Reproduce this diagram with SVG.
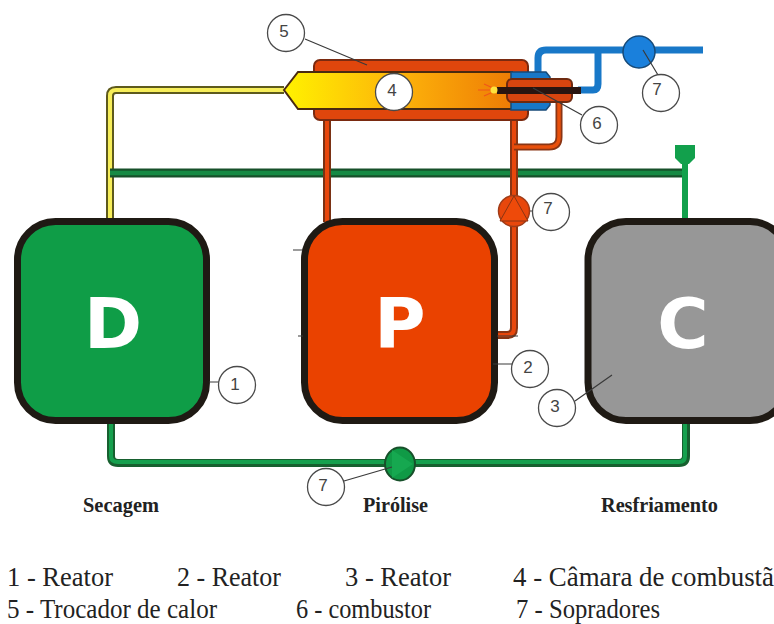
<svg xmlns="http://www.w3.org/2000/svg" width="774" height="624" viewBox="0 0 774 624">
<style>
.reactor{stroke:#1f1a14;stroke-width:7}
.letter{font-family:"DejaVu Sans",sans-serif;font-weight:700;font-size:70px;fill:#fff;text-anchor:middle}
.tag{fill:#fff;stroke:#4a4a4a;stroke-width:1.3}
.tagtext{font-family:"Liberation Sans",sans-serif;font-size:17px;fill:#444;text-anchor:middle}
.leader{stroke:#3a3a3a;stroke-width:1.2;fill:none}
.pipe{fill:none;stroke-linejoin:round}
.caption{font-family:"Liberation Serif",serif;font-weight:700;font-size:21px;fill:#222}
.legend{font-family:"Liberation Serif",serif;font-size:27px;fill:#222}
</style>
<defs>
<linearGradient id="flame" gradientUnits="userSpaceOnUse" x1="284" x2="512" y1="0" y2="0">
<stop offset="0" stop-color="#fff200"/><stop offset="0.5" stop-color="#fdb40a"/><stop offset="1" stop-color="#ee7c05"/>
</linearGradient>
</defs>
<rect width="774" height="624" fill="#fff"/>

<g id="connectors">
<!-- yellow duct from dryer to chamber -->
<path class="pipe" d="M110 222V96Q110 90 116 90H284" stroke="#5e5a1c" stroke-width="8"/>
<path class="pipe" d="M110 222V96Q110 90 116 90H284" stroke="#f7ee5a" stroke-width="4"/>
<!-- recirculating green line -->
<path class="pipe" d="M110 173H684" stroke="#17502a" stroke-width="9"/>
<path class="pipe" d="M110 173H684" stroke="#168a44" stroke-width="4.500"/>
<path class="pipe" d="M685 155V222" stroke="#12a04c" stroke-width="6"/>
<!-- bottom loop between dryer and cooler -->
<path class="pipe" d="M111 424V456Q111 463 118 463H679Q686 463 686 456V424" stroke="#17602f" stroke-width="8"/>
<path class="pipe" d="M111 424V456Q111 462 118 462H679Q685 462 685 456V424" stroke="#16a04e" stroke-width="4"/>
<!-- hot gas lines -->
<path class="pipe" d="M327 120V222" stroke="#7a3214" stroke-width="8"/>
<path class="pipe" d="M327 120V222" stroke="#e8470c" stroke-width="4"/>
<path class="pipe" d="M514 120V198M514 222V328Q514 335 507 335H497" stroke="#8a3514" stroke-width="8"/>
<path class="pipe" d="M514 120V198M514 222V328Q514 335 507 335H497" stroke="#e8470c" stroke-width="4"/>
<path class="pipe" d="M514 147H549Q559 147 559 137V102" stroke="#8a3514" stroke-width="7"/>
<path class="pipe" d="M514 147H549Q559 147 559 137V102" stroke="#e8500c" stroke-width="3.500"/>
<!-- air supply -->
<path class="pipe" d="M538 73V58Q538 50 546 50H703" stroke="#1878c8" stroke-width="7"/>
<path class="pipe" d="M578 90H593Q598 90 598 84V50" stroke="#1878c8" stroke-width="7"/>
</g>

<g id="node-exchanger">
<rect x="314" y="60" width="214" height="60" rx="6" fill="#e0460c" stroke="#7a2a10" stroke-width="2"/>
<path d="M284 90L298 72H512V109H298Z" fill="url(#flame)" stroke="#4a2a10" stroke-width="2"/>
</g>

<g id="node-burner">
<path d="M511 72H546L550 77V105L546 110H511Z" fill="#1878c8" stroke="#174a78" stroke-width="1.500"/>
<rect x="507" y="79" width="65" height="23" rx="5" fill="#d8450f" stroke="#6e2a10" stroke-width="2"/>
<rect x="497" y="87" width="84" height="7" fill="#2a1510"/>
<path d="M478 90L492 90M484 84L493 88M484 96L493 92" stroke="#f0561a" stroke-width="1.200"/>
<circle cx="494" cy="90" r="3.500" fill="#ffe23c"/>
</g>

<g id="node-d"><rect class="reactor" x="17.500" y="221.500" width="189" height="199" rx="38" fill="#0f9d47"/><text class="letter" x="113" y="348">D</text></g>
<g id="node-p"><rect class="reactor" x="304.500" y="221.500" width="190" height="199" rx="38" fill="#ea4200"/><text class="letter" x="400" y="348">P</text></g>
<g id="node-c"><rect class="reactor" x="588" y="221.500" width="200" height="199" rx="38" fill="#979797"/><text class="letter" x="683" y="348">C</text></g>

<g id="blower-top"><circle cx="639" cy="52" r="16" fill="#1a80dc" stroke="#174a78" stroke-width="1.500"/></g>
<g id="blower-hot"><circle cx="514" cy="211" r="15.500" fill="#e8470c" stroke="#a03c18" stroke-width="1.500"/><path d="M514 196L528 221H500Z" fill="#ee4a0a" stroke="#8a3514"/></g>
<g id="blower-cold"><ellipse cx="400" cy="464" rx="15" ry="16.500" fill="#109a46" stroke="#17502a" stroke-width="2"/><path d="M392 450L413 464L392 478" fill="#16a850"/></g>
<g id="vent"><path d="M675 145H695V158L689 164H681L675 158Z" fill="#12a04c"/></g>

<g id="tags">
<path class="leader" d="M305 39L367 65M643 50L658 75M533 88L582 115M530 211H534M493 364H512M344 481L392 467M209 382H219M575 401L612 375M293 250H303M298 336H303M497 336H518"/>
<circle class="tag" cx="286" cy="33" r="18.500"/><text class="tagtext" x="284" y="37">5</text>
<circle class="tag" cx="394" cy="92" r="18.500"/><text class="tagtext" x="392" y="96">4</text>
<circle class="tag" cx="599" cy="125" r="18.500"/><text class="tagtext" x="597" y="129">6</text>
<circle class="tag" cx="661" cy="93" r="18.500"/><text class="tagtext" x="657" y="95">7</text>
<circle class="tag" cx="551" cy="212" r="18.500"/><text class="tagtext" x="548" y="214">7</text>
<circle class="tag" cx="530" cy="369" r="18.500"/><text class="tagtext" x="528" y="373">2</text>
<circle class="tag" cx="557" cy="408" r="18.500"/><text class="tagtext" x="555" y="412">3</text>
<circle class="tag" cx="237" cy="385" r="18.500"/><text class="tagtext" x="235" y="390">1</text>
<circle class="tag" cx="326" cy="487" r="18.500"/><text class="tagtext" x="323" y="491">7</text>
</g>

<g id="captions">
<text class="caption" x="83" y="512" textLength="76" lengthAdjust="spacingAndGlyphs">Secagem</text>
<text class="caption" x="363" y="512" textLength="65" lengthAdjust="spacingAndGlyphs">Pirólise</text>
<text class="caption" x="601" y="512" textLength="117" lengthAdjust="spacingAndGlyphs">Resfriamento</text>
</g>

<g id="legend">
<text class="legend" x="7" y="586" textLength="106" lengthAdjust="spacingAndGlyphs">1 - Reator</text>
<text class="legend" x="177" y="586" textLength="104" lengthAdjust="spacingAndGlyphs">2 - Reator</text>
<text class="legend" x="345" y="586" textLength="106" lengthAdjust="spacingAndGlyphs">3 - Reator</text>
<text class="legend" x="513" y="586" textLength="261" lengthAdjust="spacingAndGlyphs">4 - Câmara de combustã</text>
<text class="legend" x="7" y="618" textLength="210" lengthAdjust="spacingAndGlyphs">5 - Trocador de calor</text>
<text class="legend" x="296" y="618" textLength="135" lengthAdjust="spacingAndGlyphs">6 - combustor</text>
<text class="legend" x="516" y="618" textLength="144" lengthAdjust="spacingAndGlyphs">7 - Sopradores</text>
</g>
</svg>
